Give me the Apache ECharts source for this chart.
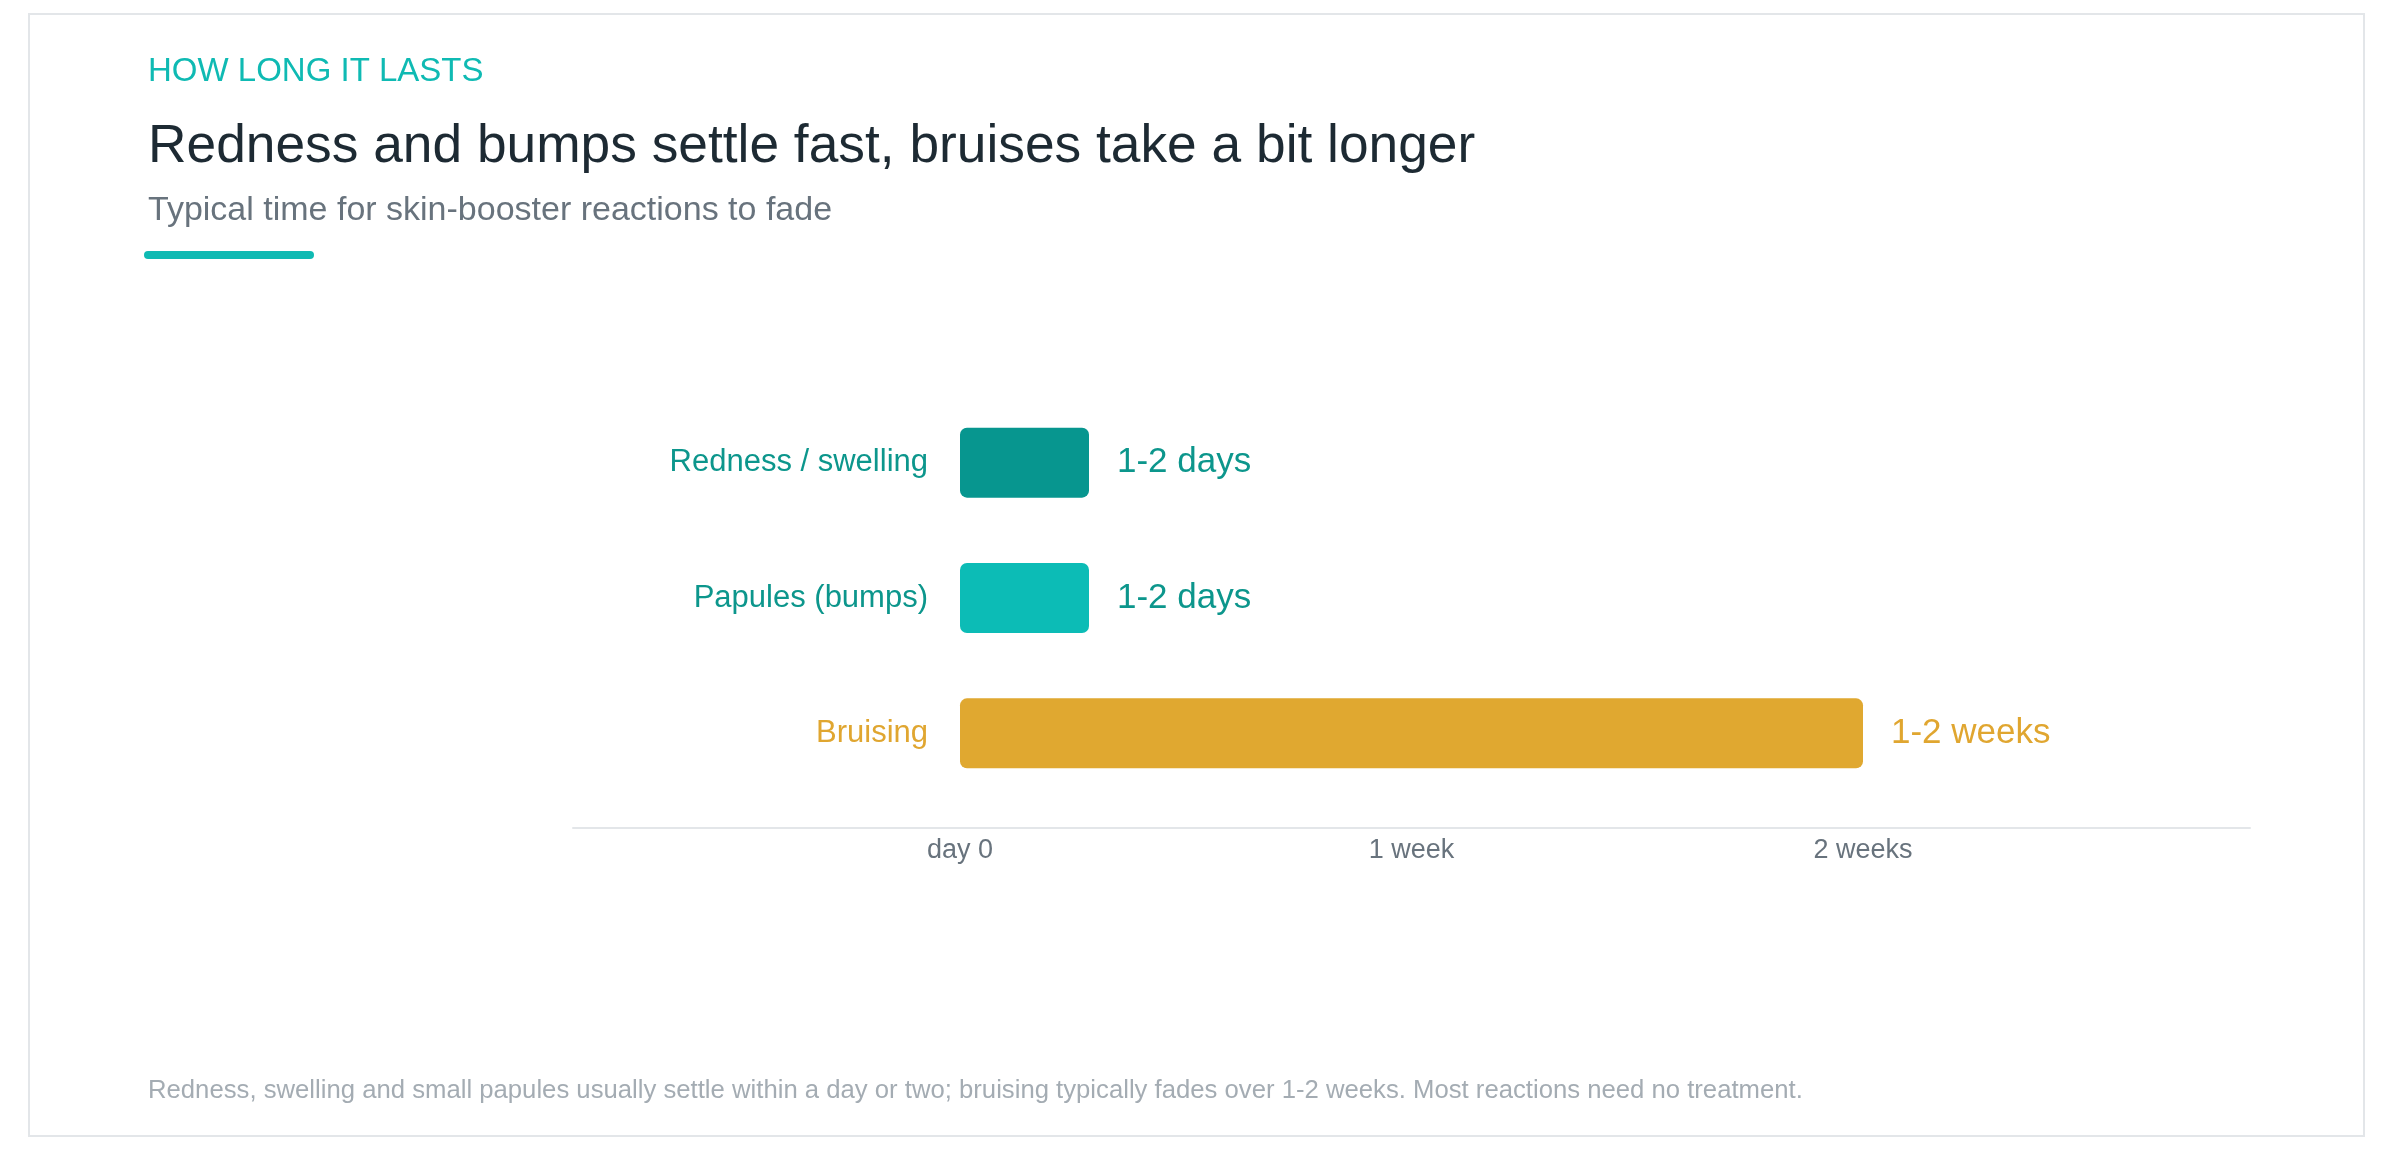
<!DOCTYPE html>
<html>
<head>
<meta charset="utf-8">
<script src="https://cdn.jsdelivr.net/npm/echarts@6/dist/echarts.min.js"></script>
<style>
  html, body { margin: 0; padding: 0; background: #ffffff; }
  #chart { width: 2392px; height: 1150px; }
</style>
</head>
<body>
<div id="chart"></div>
<script>
// ---- data ----
const categories = ['Redness / swelling', 'Papules (bumps)', 'Bruising'];
const durationDays = [2, 2, 14];
const durationLabels = ['1-2 days', '1-2 days', '1-2 weeks'];
const barColors = ['#07968f', '#0cbcb6', '#e0a830'];
const labelColors = ['#0c968c', '#0c968c', '#e0a630'];
const tickValues = [0, 7, 14];
const tickLabels = ['day 0', '1 week', '2 weeks'];

const eyebrow = 'HOW LONG IT LASTS';
const titleText = 'Redness and bumps settle fast, bruises take a bit longer';
const subtitleText = 'Typical time for skin-booster reactions to fade';
const footnote = 'Redness, swelling and small papules usually settle within a day or two; bruising typically fades over 1-2 weeks. Most reactions need no treatment.';

const FONT = "'Helvetica Neue', Helvetica, Arial, 'Liberation Sans', sans-serif";

const chart = echarts.init(document.getElementById('chart'), null, { renderer: 'canvas' });

const option = {
  backgroundColor: '#ffffff',
  animation: false,
  textStyle: { fontFamily: FONT },
  graphic: [
    { type: 'rect', silent: true, z: -1,
      shape: { x: 29, y: 14, width: 2335, height: 1122 },
      style: { fill: '#ffffff', stroke: '#e3e6e9', lineWidth: 2 } },
    { type: 'text', x: 148, y: 55,
      style: { text: eyebrow, fill: '#0fbab3', font: '33px ' + FONT, textVerticalAlign: 'top' } },
    { type: 'text', x: 148, y: 121,
      style: { text: titleText, fill: '#1d2a33', font: '53.3px ' + FONT, textVerticalAlign: 'top' } },
    { type: 'text', x: 148, y: 194,
      style: { text: subtitleText, fill: '#68737d', font: '34px ' + FONT, textVerticalAlign: 'top' } },
    { type: 'rect', shape: { x: 144, y: 251, width: 170, height: 8, r: 4 },
      style: { fill: '#0fbab3' } },
    { type: 'text', x: 148, y: 1078,
      style: { text: footnote, fill: '#a4acb3', font: '25.7px ' + FONT, textVerticalAlign: 'top' } }
  ],
  grid: { left: 573, right: 142, top: 395, bottom: 349, containLabel: false },
  xAxis: {
    type: 'value',
    min: -6,
    max: 20,
    offset: 27,
    splitLine: { show: false },
    axisTick: { show: false },
    axisLine: { show: true, onZero: false, lineStyle: { color: '#e3e6e9', width: 2 } },
    axisLabel: {
      customValues: tickValues,
      formatter: function (v) {
        const i = tickValues.indexOf(v);
        return i >= 0 ? tickLabels[i] : '';
      },
      color: '#68737d',
      fontSize: 27,
      margin: 9,
      fontFamily: FONT
    }
  },
  yAxis: {
    type: 'category',
    data: categories,
    inverse: true,
    offset: -388,
    axisTick: { show: false },
    axisLine: { show: false, onZero: false },
    splitLine: { show: false },
    axisLabel: {
      margin: 33,
      fontSize: 31,
      fontFamily: FONT,
      color: function (value, index) {
        return labelColors[categories.indexOf(value)];
      }
    }
  },
  series: [{
    type: 'bar',
    barWidth: 70,
    data: durationDays.map(function (v, i) {
      return {
        value: v,
        itemStyle: { color: barColors[i], borderRadius: 7 },
        label: { color: labelColors[i] }
      };
    }),
    label: {
      show: true,
      position: 'right',
      distance: 28,
      fontSize: 35,
      fontFamily: FONT,
      formatter: function (p) { return durationLabels[p.dataIndex]; }
    }
  }]
};

chart.setOption(option);
</script>
</body>
</html>
